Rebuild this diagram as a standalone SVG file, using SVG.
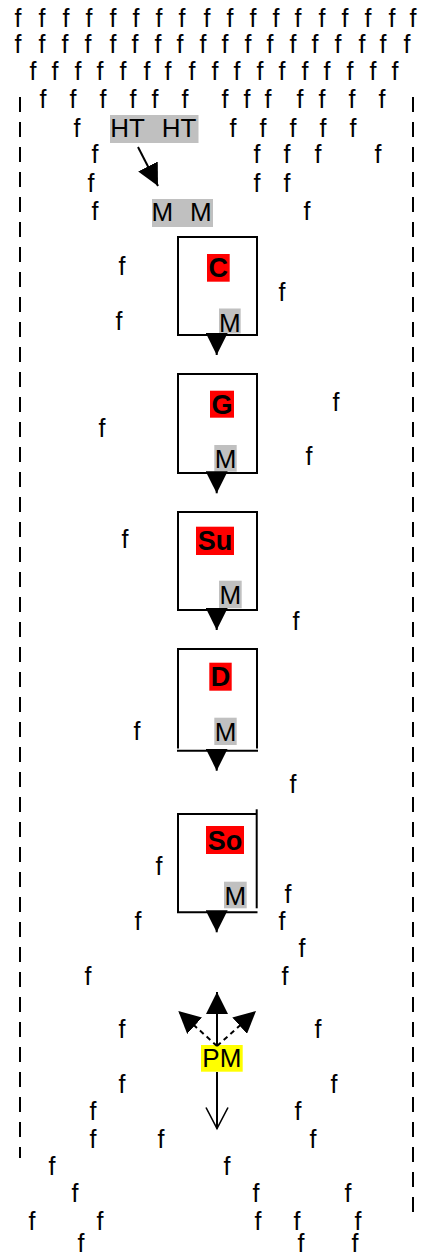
<svg xmlns="http://www.w3.org/2000/svg" width="429" height="1256" viewBox="0 0 429 1256">
<style>
text{font-family:"Liberation Sans",Arial,sans-serif;font-size:26px;fill:#000}
.f{text-anchor:middle;font-size:25px}
.lbl{text-anchor:middle;font-weight:bold;font-size:27px}
.m{text-anchor:middle}
.red{fill:#ff0000}
.gray{fill:#c0c0c0}
.yel{fill:#ffff00}
.box{fill:none;stroke:#000;stroke-width:2}
.ln{fill:none;stroke:#000;stroke-width:2}
.dash{fill:none;stroke:#000;stroke-width:2;stroke-dasharray:15 10}
.sdash{fill:none;stroke:#000;stroke-width:2;stroke-dasharray:5 4}
</style>
<defs>
<marker id="fa" markerUnits="userSpaceOnUse" markerWidth="22" markerHeight="22" viewBox="0 0 20 20" refX="20" refY="10" orient="auto"><path d="M0 0 L20 10 L0 20 Z" fill="#000"/></marker>
<marker id="oa" markerUnits="userSpaceOnUse" markerWidth="24" markerHeight="24" viewBox="0 0 22 24" refX="21" refY="12" orient="auto"><path d="M0 1 L21 12 L0 23" fill="none" stroke="#000" stroke-width="1.6"/></marker>
</defs>
<g id="frame">
<line class="dash" x1="20" y1="97" x2="20" y2="1158"/>
<line class="dash" x1="413" y1="97" x2="413" y2="1213"/>
</g>
<g id="scatter">
<text class="f" x="18" y="27">f</text><text class="f" x="42" y="27">f</text><text class="f" x="66" y="27">f</text><text class="f" x="89" y="27">f</text><text class="f" x="113" y="27">f</text><text class="f" x="136" y="27">f</text><text class="f" x="159" y="27">f</text><text class="f" x="182" y="27">f</text><text class="f" x="207" y="27">f</text><text class="f" x="230" y="27">f</text><text class="f" x="253" y="27">f</text><text class="f" x="276" y="27">f</text><text class="f" x="298" y="27">f</text><text class="f" x="322" y="27">f</text><text class="f" x="345" y="27">f</text><text class="f" x="368" y="27">f</text><text class="f" x="392" y="27">f</text><text class="f" x="413" y="27">f</text>
<text class="f" x="18" y="53">f</text><text class="f" x="42" y="53">f</text><text class="f" x="65" y="53">f</text><text class="f" x="88" y="53">f</text><text class="f" x="113" y="53">f</text><text class="f" x="135" y="53">f</text><text class="f" x="158" y="53">f</text><text class="f" x="180" y="53">f</text><text class="f" x="203" y="53">f</text><text class="f" x="225" y="53">f</text><text class="f" x="248" y="53">f</text><text class="f" x="270" y="53">f</text><text class="f" x="293" y="53">f</text><text class="f" x="315" y="53">f</text><text class="f" x="338" y="53">f</text><text class="f" x="362" y="53">f</text><text class="f" x="383" y="53">f</text><text class="f" x="407" y="53">f</text>
<text class="f" x="33" y="80">f</text><text class="f" x="55" y="80">f</text><text class="f" x="78" y="80">f</text><text class="f" x="100" y="80">f</text><text class="f" x="123" y="80">f</text><text class="f" x="147" y="80">f</text><text class="f" x="168" y="80">f</text><text class="f" x="192" y="80">f</text><text class="f" x="215" y="80">f</text><text class="f" x="237" y="80">f</text><text class="f" x="260" y="80">f</text><text class="f" x="282" y="80">f</text><text class="f" x="305" y="80">f</text><text class="f" x="327" y="80">f</text><text class="f" x="350" y="80">f</text><text class="f" x="373" y="80">f</text><text class="f" x="395" y="80">f</text>
<text class="f" x="43" y="108">f</text><text class="f" x="73" y="108">f</text><text class="f" x="103" y="108">f</text><text class="f" x="133" y="108">f</text><text class="f" x="155" y="108">f</text><text class="f" x="185" y="108">f</text><text class="f" x="225" y="108">f</text><text class="f" x="247" y="108">f</text><text class="f" x="268" y="108">f</text><text class="f" x="300" y="108">f</text><text class="f" x="322" y="108">f</text><text class="f" x="352" y="108">f</text><text class="f" x="382" y="108">f</text>
<text class="f" x="77" y="137">f</text><text class="f" x="233" y="137">f</text><text class="f" x="263" y="137">f</text><text class="f" x="293" y="137">f</text><text class="f" x="323" y="137">f</text><text class="f" x="353" y="137">f</text>
<text class="f" x="95" y="163">f</text><text class="f" x="257" y="163">f</text><text class="f" x="287" y="163">f</text><text class="f" x="318" y="163">f</text><text class="f" x="378" y="163">f</text>
<text class="f" x="91" y="192">f</text><text class="f" x="257" y="192">f</text><text class="f" x="287" y="192">f</text>
<text class="f" x="95" y="220">f</text><text class="f" x="307" y="220">f</text>
<text class="f" x="122" y="275">f</text><text class="f" x="119" y="330">f</text><text class="f" x="282" y="301">f</text>
<text class="f" x="336" y="411">f</text><text class="f" x="102" y="437">f</text><text class="f" x="309" y="465">f</text>
<text class="f" x="125" y="548">f</text><text class="f" x="296" y="630">f</text>
<text class="f" x="137" y="740">f</text><text class="f" x="293" y="793">f</text>
<text class="f" x="159" y="875">f</text><text class="f" x="288" y="903">f</text><text class="f" x="138" y="930">f</text><text class="f" x="282" y="930">f</text><text class="f" x="302" y="957">f</text>
<text class="f" x="88" y="985">f</text><text class="f" x="285" y="985">f</text>
<text class="f" x="122" y="1038">f</text><text class="f" x="318" y="1038">f</text>
<text class="f" x="122" y="1093">f</text><text class="f" x="334" y="1093">f</text>
<text class="f" x="93" y="1120">f</text><text class="f" x="298" y="1120">f</text>
<text class="f" x="93" y="1148">f</text><text class="f" x="161" y="1148">f</text><text class="f" x="313" y="1148">f</text>
<text class="f" x="52" y="1175">f</text><text class="f" x="227" y="1175">f</text>
<text class="f" x="75" y="1202">f</text><text class="f" x="256" y="1202">f</text><text class="f" x="348" y="1202">f</text>
<text class="f" x="32" y="1230">f</text><text class="f" x="100" y="1230">f</text><text class="f" x="258" y="1230">f</text><text class="f" x="297" y="1230">f</text><text class="f" x="358" y="1230">f</text>
<text class="f" x="81" y="1252">f</text><text class="f" x="301" y="1252">f</text><text class="f" x="355" y="1252">f</text>
</g>
<g id="node-ht">
<rect class="gray" x="110" y="115" width="88.5" height="28"/>
<text x="110.3" y="137" word-spacing="10">HT HT</text>
</g>
<g id="node-mm">
<rect class="gray" x="152" y="199" width="61" height="28"/>
<text x="151.5" y="221" word-spacing="9.5">M M</text>
</g>
<g id="node-c">
<rect class="box" x="178" y="237" width="79" height="98"/>
<rect class="red" x="207" y="254" width="22.7" height="27.7"/>
<text class="lbl" x="218.3" y="277">C</text>
<rect class="gray" x="219" y="308.5" width="21.7" height="25"/>
<text class="m" x="229.9" y="331.5">M</text>
</g>
<g id="node-g">
<rect class="box" x="178" y="374" width="79" height="99"/>
<rect class="red" x="210" y="390.7" width="24" height="27"/>
<text class="lbl" x="222" y="414">G</text>
<rect class="gray" x="214.3" y="445" width="22.4" height="26.7"/>
<text class="m" x="225.5" y="468">M</text>
</g>
<g id="node-su">
<rect class="box" x="178" y="512" width="79" height="98"/>
<rect class="red" x="196" y="526.7" width="38" height="28.3"/>
<text class="lbl" x="215" y="550">Su</text>
<rect class="gray" x="219" y="580.7" width="22.7" height="27.6"/>
<text class="m" x="230.3" y="604">M</text>
</g>
<g id="node-d">
<path class="box" d="M178 748.5 V649 H257 V748.5"/>
<line class="ln" x1="177" y1="750.7" x2="258" y2="750.7"/>
<rect class="red" x="209.3" y="662.7" width="22.4" height="28"/>
<text class="lbl" x="220.5" y="686">D</text>
<rect class="gray" x="214.3" y="717.7" width="22.4" height="27.3"/>
<text class="m" x="225.5" y="741">M</text>
</g>
<g id="node-so">
<path class="box" d="M256 814 H178 V912.3 H257.5"/>
<line class="ln" x1="256.7" y1="809.3" x2="256.7" y2="908.3"/>
<rect class="red" x="206" y="826" width="38" height="28"/>
<text class="lbl" x="225" y="849.5">So</text>
<rect class="gray" x="224" y="881.7" width="22.7" height="26.6"/>
<text class="m" x="235.3" y="905">M</text>
</g>
<g id="node-pm">
<rect class="yel" x="201" y="1045" width="41.7" height="26.7"/>
<text class="m" x="221.8" y="1067">PM</text>
</g>
<g id="connectors">
<line class="ln" x1="138" y1="147" x2="158" y2="186" marker-end="url(#fa)"/>
<line class="ln" x1="216.7" y1="336" x2="216.7" y2="355" marker-end="url(#fa)"/>
<line class="ln" x1="216.7" y1="474" x2="216.7" y2="493.3" marker-end="url(#fa)"/>
<line class="ln" x1="216.7" y1="611" x2="216.7" y2="630" marker-end="url(#fa)"/>
<line class="ln" x1="216.7" y1="751.5" x2="216.7" y2="770.7" marker-end="url(#fa)"/>
<line class="ln" x1="216.7" y1="913" x2="216.7" y2="932.3" marker-end="url(#fa)"/>
<line class="ln" x1="217" y1="1046" x2="217" y2="992" marker-end="url(#fa)"/>
<line class="sdash" x1="217" y1="1046" x2="178.3" y2="1011" marker-end="url(#fa)"/>
<line class="sdash" x1="217" y1="1046" x2="256" y2="1011" marker-end="url(#fa)"/>
<line class="ln" x1="217" y1="1072" x2="217" y2="1128.5" marker-end="url(#oa)"/>
</g>
</svg>
